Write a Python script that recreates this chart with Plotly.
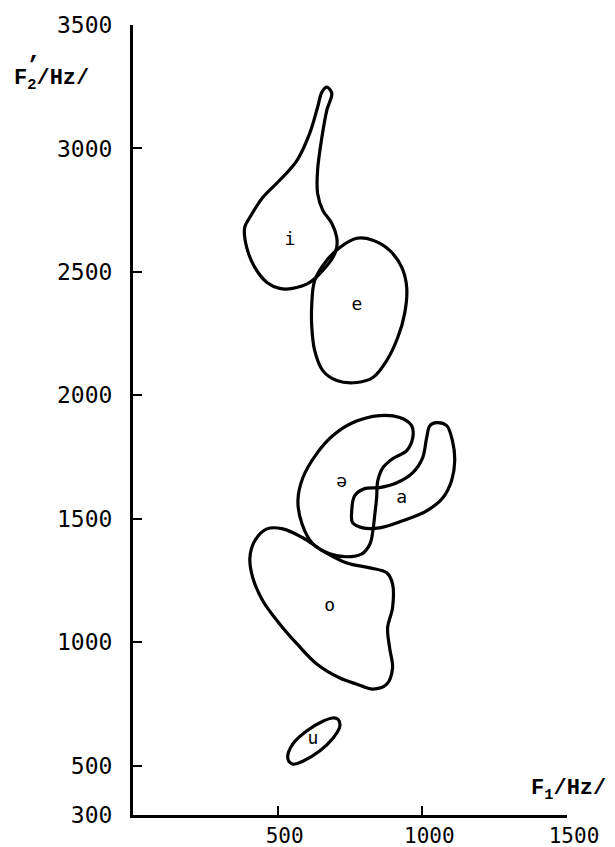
import plotly.graph_objects as go

# Vowel regions: F1 (Hz) and F2' (Hz) outline points
i_f1 = [670, 687, 670, 653, 638, 638, 656, 687, 704, 704, 691, 656, 611, 552, 507, 463, 421, 393, 386, 404, 449, 507, 567, 611, 638, 653]
i_f2 = [3248, 3224, 3155, 3046, 2912, 2818, 2749, 2697, 2640, 2599, 2559, 2506, 2457, 2433, 2433, 2457, 2518, 2599, 2680, 2721, 2802, 2871, 2952, 3062, 3167, 3228]

e_f1 = [774, 829, 887, 929, 946, 939, 915, 877, 829, 774, 704, 656, 628, 618, 618, 628, 670, 715]
e_f2 = [2636, 2628, 2587, 2518, 2437, 2332, 2234, 2141, 2072, 2052, 2060, 2100, 2181, 2275, 2372, 2465, 2547, 2599]

schwa_f1 = [852, 922, 963, 967, 946, 897, 864, 846, 842, 836, 829, 819, 791, 739, 680, 622, 584, 570, 587, 635, 691, 759]
schwa_f2 = [1918, 1910, 1877, 1829, 1776, 1743, 1707, 1654, 1585, 1520, 1451, 1398, 1358, 1346, 1358, 1398, 1480, 1573, 1666, 1764, 1837, 1889]

a_f1 = [1049, 1084, 1104, 1112, 1101, 1071, 1015, 932, 852, 794, 759, 756, 766, 801, 852, 912, 967, 1001, 1015, 1026]
a_f2 = [1889, 1877, 1816, 1735, 1654, 1585, 1532, 1492, 1463, 1463, 1484, 1532, 1593, 1622, 1626, 1646, 1687, 1747, 1829, 1877]

o_f1 = [463, 518, 587, 656, 739, 819, 877, 897, 897, 880, 887, 897, 877, 829, 774, 715, 635, 567, 507, 449, 414, 404, 421]
o_f2 = [1459, 1459, 1423, 1370, 1321, 1301, 1281, 1236, 1139, 1058, 977, 895, 830, 810, 830, 855, 912, 993, 1074, 1167, 1261, 1342, 1411]

u_f1 = [708, 715, 691, 645, 587, 552, 535, 552, 600, 656, 691]
u_f2 = [688, 660, 611, 559, 518, 506, 530, 587, 640, 680, 693]

vowel_labels = ["i", "e", "ə", "a", "o", "u"]
label_f1 = [542, 774, 721, 929, 680, 622]
label_f2 = [2628, 2364, 1646, 1581, 1143, 607]

y_ticks = [300, 500, 1000, 1500, 2000, 2500, 3000, 3500]
x_ticks = [500, 1000, 1500]

FONT = "DejaVu Sans Mono"
TFONT = "Liberation Mono"

fig = go.Figure()
for xs, ys in [(i_f1, i_f2), (e_f1, e_f2), (schwa_f1, schwa_f2), (a_f1, a_f2), (o_f1, o_f2), (u_f1, u_f2)]:
    fig.add_trace(go.Scatter(
        x=xs + [xs[0]], y=ys + [ys[0]], mode="lines",
        line=dict(color="black", width=3.2, shape="spline", smoothing=1.0),
        hoverinfo="skip", showlegend=False))

fig.add_trace(go.Scatter(
    x=label_f1, y=label_f2, mode="text", text=vowel_labels,
    textfont=dict(family=FONT, size=18, color="black"),
    showlegend=False, hoverinfo="skip"))

fig.update_layout(
    width=615, height=847,
    paper_bgcolor="white", plot_bgcolor="white",
    margin=dict(l=133, r=48, t=25, b=32, autoexpand=False),
    font=dict(family=FONT, color="black", size=23),
    xaxis=dict(range=[0, 1500], tickvals=x_ticks, ticktext=[str(v) for v in x_ticks],
               showline=True, linecolor="black", linewidth=3, ticks="inside",
               ticklen=9, tickwidth=2, tickcolor="black", showgrid=False, zeroline=False,
               automargin=False,
               ticklabelstandoff=0, ticklabelshift=7, tickfont=dict(family=FONT, size=21)),
    yaxis=dict(range=[300, 3500], tickvals=y_ticks, ticktext=[str(v) for v in y_ticks],
               showline=True, linecolor="black", linewidth=3, ticks="inside",
               ticklen=9, tickwidth=2, tickcolor="black", showgrid=False, zeroline=False,
               automargin=False,
               ticklabelstandoff=13, tickfont=dict(family=FONT, size=23)),
    annotations=[
        dict(text="<b>F<sub>2</sub>/Hz/</b>", xref="paper", yref="paper", x=-0.279, y=0.931,
             xanchor="left", yanchor="middle", showarrow=False,
             font=dict(family=TFONT, size=22, color="black")),
        dict(text="<b>’</b>", xref="paper", yref="paper", x=-0.231, y=0.947,
             xanchor="center", yanchor="middle", showarrow=False,
             font=dict(family=TFONT, size=24, color="black")),
        dict(text="<b>F<sub>1</sub>/Hz/</b>", xref="paper", yref="paper", x=1.094, y=0.032,
             xanchor="right", yanchor="middle", showarrow=False,
             font=dict(family=TFONT, size=22, color="black")),
    ],
)

fig.write_html("out.html", config={"displayModeBar": False},
               post_script="document.body.style.margin='0';")
